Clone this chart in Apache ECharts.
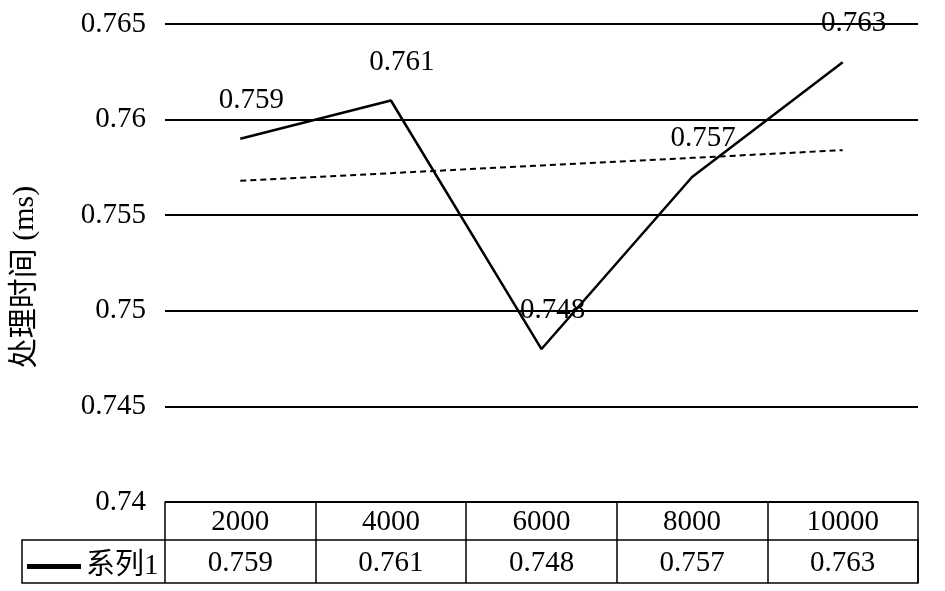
<!DOCTYPE html>
<html><head><meta charset="utf-8">
<script src="https://cdn.jsdelivr.net/npm/echarts@6/dist/echarts.min.js"></script>
<style>html,body{margin:0;padding:0;background:#fff}#c{width:945px;height:591px}</style>
</head><body><div id="c"></div>
<script>
const categories = ['2000', '4000', '6000', '8000', '10000'];
const seriesName = '系列1';
const values = [0.759, 0.761, 0.748, 0.757, 0.763];
const trendValues = [0.7568, 0.7572, 0.7576, 0.7580, 0.7584];
const yTicks = { min: 0.74, max: 0.765, interval: 0.005 };
const yAxisName = '处理时间 (ms)';

const FONT = "'Liberation Serif', 'Noto Sans CJK SC', serif";
const chart = echarts.init(document.getElementById('c'), null, { renderer: 'canvas' });
chart.setOption({
  backgroundColor: '#fff',
  animation: false,
  textStyle: { fontFamily: FONT, color: '#000' },
  legend: {
    data: [seriesName], left: 22, top: 547,
    icon: 'rect', itemWidth: 54, itemHeight: 5,
    textStyle: { fontFamily: FONT, fontSize: 29, color: '#000' }
  },
  grid: [
    { left: 165, right: 27, top: 24, bottom: 89 },
    { left: 22, right: 27, top: 540, height: 43, show: true, borderColor: '#000', borderWidth: 1.5, backgroundColor: 'transparent' }
  ],
  xAxis: [
    {
      type: 'category', gridIndex: 0, data: categories, boundaryGap: true,
      axisLine: { show: true, lineStyle: { color: '#000', width: 1.5 } },
      axisTick: { show: true, length: 81, lineStyle: { color: '#000', width: 1.5 } },
      axisLabel: { margin: 6, fontSize: 29, color: '#000', fontFamily: FONT },
      splitLine: { show: false }
    },
    {
      type: 'category', gridIndex: 0, data: categories, position: 'bottom', offset: 41,
      axisLine: { show: false }, axisTick: { show: false },
      axisLabel: { margin: 6, fontSize: 29, color: '#000', fontFamily: FONT,
        formatter: (v, i) => String(values[i]) }
    },
    { type: 'value', gridIndex: 1, show: false }
  ],
  yAxis: [
    {
      type: 'value', gridIndex: 0, min: yTicks.min, max: yTicks.max, interval: yTicks.interval,
      name: yAxisName, nameLocation: 'middle', nameRotate: 90, nameGap: 125,
      nameTextStyle: { fontSize: 30, color: '#000', fontFamily: FONT, padding: [0, 28, 0, 0] },
      axisLine: { show: false }, axisTick: { show: false },
      axisLabel: { margin: 19, fontSize: 29, color: '#000', fontFamily: FONT,
        formatter: v => String(parseFloat(v.toFixed(3))) },
      splitLine: { show: true, lineStyle: { color: '#000', width: 2 } }
    },
    { type: 'value', gridIndex: 1, show: false }
  ],
  series: [
    {
      name: seriesName, type: 'line', xAxisIndex: 0, yAxisIndex: 0, data: values,
      symbol: 'circle', symbolSize: 0, showSymbol: true,
      lineStyle: { color: '#000', width: 2.5 }, itemStyle: { color: '#000' },
      label: { show: true, position: 'top', distance: 24, offset: [11, 0], fontSize: 29, color: '#000', fontFamily: FONT }
    },
    {
      name: 'trend', type: 'line', xAxisIndex: 0, yAxisIndex: 0, data: trendValues,
      symbol: 'none', lineStyle: { color: '#000', width: 2, type: [6, 4] }, silent: true
    }
  ]
});
</script></body></html>
